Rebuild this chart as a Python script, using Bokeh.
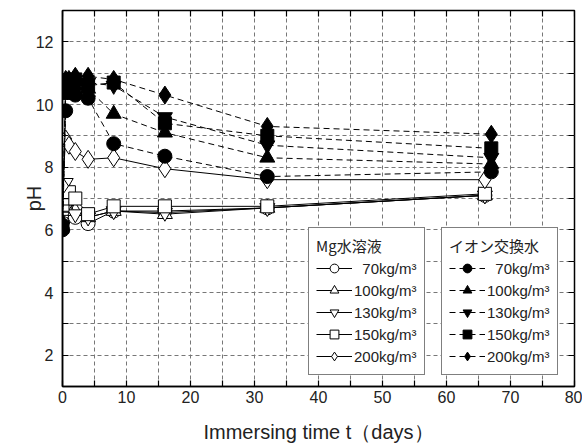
from bokeh.plotting import figure
from bokeh.models import Legend, LegendItem, FixedTicker, LinearAxis, Range1d
from bokeh.embed import file_html
from bokeh.resources import INLINE

# ---- data ----
t_mg = [0, 0.5, 1, 2, 4, 8, 16, 32, 66]
t_ion = [0, 0.5, 1, 2, 4, 8, 16, 32, 67]

conc_labels = ["\u200770kg/m\u00b3", "100kg/m\u00b3", "130kg/m\u00b3", "150kg/m\u00b3", "200kg/m\u00b3"]
markers = ["circle", "triangle", "inverted_triangle", "square", "diamond"]
marker_sizes = [14, 15, 15, 13, 18]

mg_70 = [6.5, 6.9, 6.6, 6.4, 6.2, 6.6, 6.6, 6.7, 7.1]
mg_100 = [6.6, 7.0, 6.7, 6.6, 6.4, 6.6, 6.5, 6.7, 7.1]
mg_130 = [7.3, 7.5, 6.9, 6.5, 6.4, 6.6, 6.55, 6.7, 7.1]
mg_150 = [6.8, 7.0, 7.2, 7.0, 6.5, 6.75, 6.75, 6.75, 7.15]
mg_200 = [7.4, 8.9, 8.7, 8.5, 8.25, 8.3, 7.95, 7.6, 7.6]

ion_70 = [6.0, 9.8, 10.5, 10.3, 10.2, 8.75, 8.35, 7.7, 7.85]
ion_100 = [6.1, 10.3, 10.7, 10.6, 10.5, 9.7, 9.1, 8.3, 8.1]
ion_130 = [6.1, 10.5, 10.8, 10.7, 10.7, 10.6, 9.6, 8.7, 8.3]
ion_150 = [6.1, 10.6, 10.7, 10.8, 10.6, 10.7, 9.4, 9.0, 8.6]
ion_200 = [6.2, 10.8, 10.8, 10.9, 10.9, 10.8, 10.3, 9.3, 9.05]

mg_series = [mg_70, mg_100, mg_130, mg_150, mg_200]
ion_series = [ion_70, ion_100, ion_130, ion_150, ion_200]

x_major = [0, 10, 20, 30, 40, 50, 60, 70, 80]
x_minor = [5, 15, 25, 35, 45, 55, 65, 75]
y_major = [2, 4, 6, 8, 10, 12]
y_minor = [1, 3, 5, 7, 9, 11, 13]

FONT = "Liberation Sans"

p = figure(frame_width=512, frame_height=376,
           x_range=Range1d(0, 80), y_range=Range1d(1, 13),
           output_backend="svg", toolbar_location=None,
           min_border_left=62, min_border_right=8,
           min_border_top=10, min_border_bottom=60,
           background_fill_color="white", border_fill_color="white")

p.outline_line_color = "black"
p.outline_line_width = 1.5

x_ticker = FixedTicker(ticks=x_major, minor_ticks=x_minor)
y_ticker = FixedTicker(ticks=y_major, minor_ticks=y_minor)

for ax in (p.xaxis[0], p.yaxis[0]):
    ax.major_tick_in = 6
    ax.major_tick_out = 0
    ax.minor_tick_in = 6
    ax.minor_tick_out = 0
    ax.axis_line_color = "black"
    ax.axis_line_width = 1.5
    ax.major_tick_line_color = "black"
    ax.major_tick_line_width = 1.2
    ax.minor_tick_line_color = "black"
    ax.minor_tick_line_width = 1.2
    ax.major_label_text_font = FONT
    ax.major_label_text_font_size = "16px"
    ax.major_label_text_color = "#222222"
    ax.axis_label_text_font = FONT
    ax.axis_label_text_font_size = "20px"
    ax.axis_label_text_font_style = "normal"
    ax.axis_label_text_color = "#222222"

p.xaxis[0].ticker = x_ticker
p.xaxis[0].major_label_standoff = 4
p.xaxis[0].axis_label = "Immersing time t\uff08days\uff09"
p.xaxis[0].axis_label_standoff = 15

p.yaxis[0].ticker = y_ticker
p.yaxis[0].major_label_standoff = 9
p.yaxis[0].axis_label = "pH"
p.yaxis[0].axis_label_standoff = -12

# grid (dashed at every tick)
p.xgrid[0].ticker = x_ticker
p.ygrid[0].ticker = y_ticker
for g in (p.xgrid[0], p.ygrid[0]):
    g.grid_line_color = "#777777"
    g.grid_line_dash = "4 3"
    g.grid_line_width = 1
    g.minor_grid_line_color = "#777777"
    g.minor_grid_line_dash = "4 3"
    g.minor_grid_line_width = 1

# inward ticks on right / top (no labels, no extra space)
right = LinearAxis(ticker=FixedTicker(ticks=[], minor_ticks=y_major + y_minor),
                   fixed_location=80, minor_tick_in=6, minor_tick_out=0,
                   major_tick_in=0, major_tick_out=0,
                   minor_tick_line_color="black", minor_tick_line_width=1.2,
                   axis_line_color=None)
top = LinearAxis(ticker=FixedTicker(ticks=[], minor_ticks=x_major + x_minor),
                 fixed_location=13, minor_tick_in=6, minor_tick_out=0,
                 major_tick_in=0, major_tick_out=0,
                 minor_tick_line_color="black", minor_tick_line_width=1.2,
                 axis_line_color=None)
p.add_layout(right, "right")
p.add_layout(top, "above")

# series
mg_items = []
for ys, mk, sz, lab in zip(mg_series, markers, marker_sizes, conc_labels):
    lr = p.line(t_mg, ys, line_color="black", line_width=1)
    sr = p.scatter(t_mg, ys, marker=mk, size=sz, fill_color="white",
                   line_color="black", line_width=1)
    mg_items.append(LegendItem(label=lab, renderers=[lr, sr]))

ion_items = []
for ys, mk, sz, lab in zip(ion_series, markers, marker_sizes, conc_labels):
    lr = p.line(t_ion, ys, line_color="black", line_width=1, line_dash="6 4")
    sr = p.scatter(t_ion, ys, marker=mk, size=sz, fill_color="black",
                   line_color="black", line_width=1)
    ion_items.append(LegendItem(label=lab, renderers=[lr, sr]))


def style_legend(leg):
    leg.border_line_color = "black"
    leg.border_line_width = 1
    leg.background_fill_color = "white"
    leg.background_fill_alpha = 1
    leg.label_text_font = FONT
    leg.label_text_font_size = "15px"
    leg.label_text_color = "#222222"
    leg.glyph_width = 36
    leg.glyph_height = 22
    leg.label_height = 20
    leg.spacing = 0
    leg.padding = 7
    leg.margin = 0
    leg.label_standoff = 2
    leg.title_text_font = "Noto Sans CJK JP"
    leg.title_text_font_size = "15px"
    leg.title_text_font_style = "normal"
    leg.title_text_color = "#222222"
    leg.title_standoff = 1


leg_mg = Legend(items=mg_items, title="Mg水溶液", location=(246, 11))
leg_ion = Legend(items=ion_items, title="イオン交換水", location=(379, 11))
style_legend(leg_mg)
style_legend(leg_ion)
p.add_layout(leg_mg)
p.add_layout(leg_ion)

open("out.html", "w").write(file_html(p, INLINE))
